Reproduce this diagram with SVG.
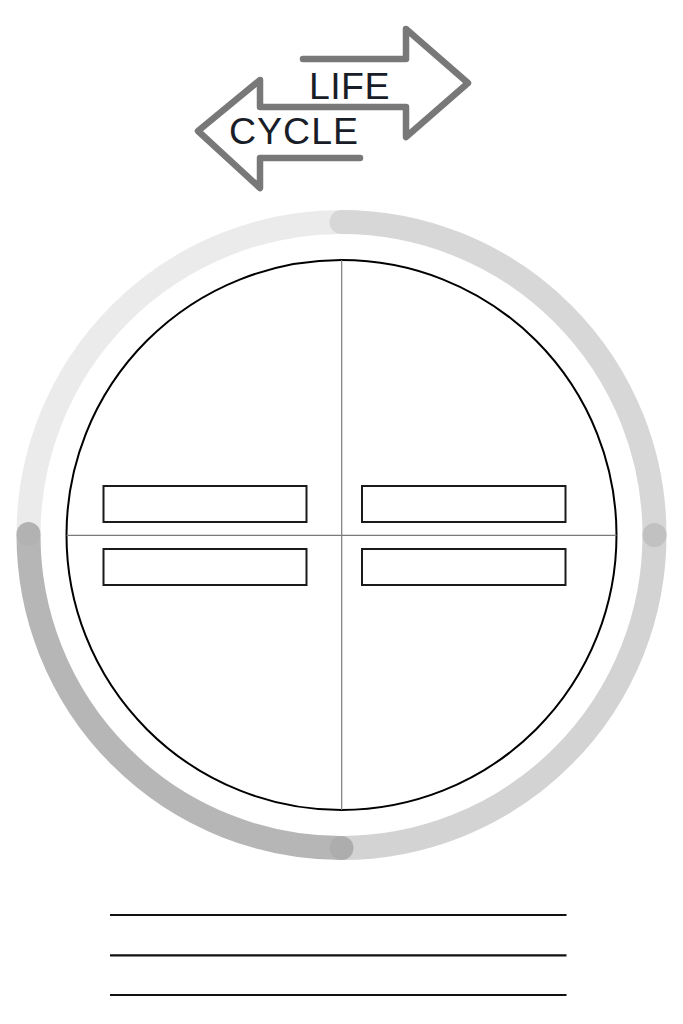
<svg xmlns="http://www.w3.org/2000/svg" width="683" height="1024" viewBox="0 0 683 1024">
<style>
.ring{fill:none;stroke-width:24;stroke-linecap:butt}
.box{fill:#fff;stroke:#1a1a1a;stroke-width:2}
.title{font-family:"Liberation Sans",Arial,sans-serif;font-size:37.5px;fill:#181d27}
.rule{stroke:#111;stroke-width:2.2}
</style>
<rect width="683" height="1024" fill="#fff"/>
<g id="title-arrows">
<polyline points="303,59 406,59 406,29 468,83 406,137 406,107 260,107 260,80 198,131 260,188 260,158 360,158" fill="none" stroke="#787878" stroke-width="6.5" stroke-linecap="round" stroke-linejoin="round"/>
<text class="title" x="309" y="99" letter-spacing="0.4">LIFE</text>
<text class="title" x="229" y="144" letter-spacing="1">CYCLE</text>
</g>
<g id="cycle-ring">
<path class="ring" stroke="#ebebeb" d="M28.5,535 A313,313 0 0 1 341.5,222"/>
<path class="ring" stroke="#d7d7d7" d="M341.5,222 A313,313 0 0 1 654.5,535"/>
<path class="ring" stroke="#d3d3d3" d="M654.5,535 A313,313 0 0 1 341.5,848"/>
<path class="ring" stroke="#b6b6b6" d="M341.5,848 A313,313 0 0 1 28.5,535"/>
<circle cx="341.5" cy="222" r="12" fill="#d7d7d7"/>
<circle cx="654.5" cy="535" r="12" fill="#c1c1c1"/>
<circle cx="341.5" cy="848" r="12" fill="#adadad"/>
<circle cx="28.5" cy="534" r="12" fill="#b2b2b2"/>
</g>
<g id="wheel">
<circle cx="341.5" cy="535" r="275" fill="#fff" stroke="#000" stroke-width="2"/>
<line x1="341.7" y1="260" x2="341.7" y2="810" stroke="#7a7a7a" stroke-width="1.2"/>
<line x1="66.5" y1="535.3" x2="616.5" y2="535.3" stroke="#7a7a7a" stroke-width="1.2"/>
</g>
<g id="box-tl"><rect class="box" x="103.5" y="486" width="203" height="36"/></g>
<g id="box-bl"><rect class="box" x="103.5" y="549" width="203" height="36"/></g>
<g id="box-tr"><rect class="box" x="362" y="486" width="203.5" height="36"/></g>
<g id="box-br"><rect class="box" x="362" y="549" width="203.5" height="36"/></g>
<g id="answer-lines">
<line class="rule" x1="110" y1="915" x2="566.5" y2="915"/>
<line class="rule" x1="110" y1="955.3" x2="566.5" y2="955.3"/>
<line class="rule" x1="110" y1="995" x2="566.5" y2="995"/>
</g>
</svg>
